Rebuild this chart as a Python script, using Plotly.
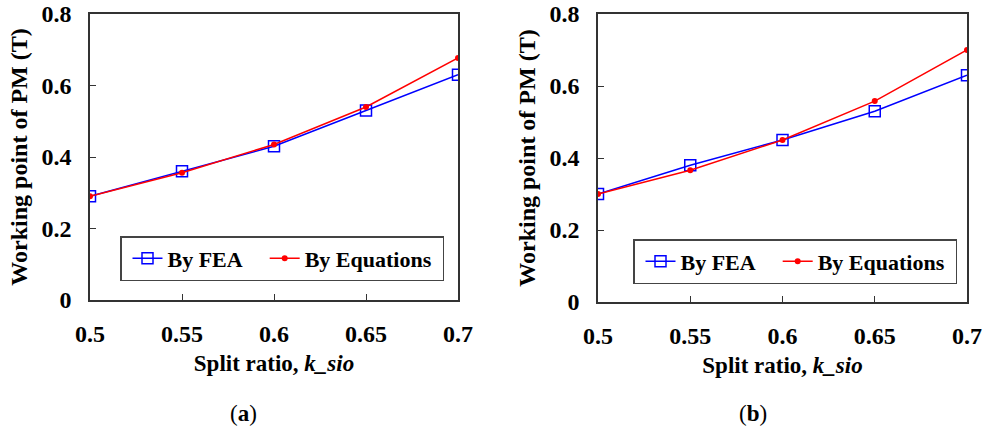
import plotly.graph_objects as go

split_ratio = [0.5, 0.55, 0.6, 0.65, 0.7]
x_tick_labels = ["0.5", "0.55", "0.6", "0.65", "0.7"]
y_tick_vals = [0, 0.2, 0.4, 0.6, 0.8]
y_tick_labels = ["0", "0.2", "0.4", "0.6", "0.8"]

fea_a = [0.29, 0.36, 0.43, 0.53, 0.63]
eq_a = [0.29, 0.356, 0.435, 0.54, 0.677]
fea_b = [0.30, 0.38, 0.45, 0.53, 0.63]
eq_b = [0.30, 0.366, 0.45, 0.558, 0.70]

W, H = 987, 432
FONT = "Liberation Serif"
BLUE = "#0000FF"
RED = "#FF0000"


def px(x):
    return x / W


def py(y):
    return 1 - y / H


fig = go.Figure()


def add_pair(fea, eq, xa, ya, legend):
    fig.add_trace(go.Scatter(
        x=split_ratio, y=fea, mode="lines+markers", name="By FEA\u00a0\u00a0",
        xaxis=xa, yaxis=ya, legend=legend,
        line=dict(color=BLUE, width=1.5),
        marker=dict(symbol="square-open", size=11, color=BLUE, line=dict(width=1.5)),
    ))
    fig.add_trace(go.Scatter(
        x=split_ratio, y=eq, mode="lines+markers", name="By Equations\u00a0",
        xaxis=xa, yaxis=ya, legend=legend,
        line=dict(color=RED, width=1.5),
        marker=dict(symbol="circle", size=6, color=RED),
    ))


add_pair(fea_a, eq_a, "x", "y", "legend")
add_pair(fea_b, eq_b, "x2", "y2", "legend2")

axis_common = dict(
    showgrid=False, zeroline=False, showline=True, mirror=True, automargin=False,
    linecolor="#333333", linewidth=1.5, ticks="inside", ticklen=6,
    tickcolor="#333333", tickwidth=1, ticklabeloverflow="allow",
    tickfont=dict(family=FONT, size=24, color="black", weight="bold"),
)

xdef = dict(range=[0.5, 0.7], tickvals=split_ratio, ticktext=x_tick_labels,
            ticklabelstandoff=11,
            title=dict(text="<b>Split ratio, <i>k_sio</i></b>",
                       font=dict(family=FONT, size=23, color="black"), standoff=9))
ydef = dict(range=[0, 0.8], tickvals=y_tick_vals, ticktext=y_tick_labels,
            ticklabelstandoff=12,
            title=dict(text="<b>Working point of PM (T)</b>",
                       font=dict(family=FONT, size=24, color="black"), standoff=7))

legend_common = dict(
    orientation="h", bordercolor="#444444", borderwidth=1.5, bgcolor="white",
    font=dict(family=FONT, size=22, color="black", weight="bold"),
    xanchor="left", yanchor="top", itemwidth=30, indentation=6,
    tracegroupgap=0,
)

fig.update_layout(
    width=W, height=H, margin=dict(l=0, r=0, t=0, b=0, autoexpand=False),
    paper_bgcolor="white", plot_bgcolor="white",
    showlegend=True,
    xaxis=dict(domain=[px(90), px(458)], anchor="y", **xdef, **axis_common),
    yaxis=dict(domain=[py(300), py(14)], anchor="x", **ydef, **axis_common),
    xaxis2=dict(domain=[px(598), px(967)], anchor="y2", **xdef, **axis_common),
    yaxis2=dict(domain=[py(302), py(14)], anchor="x2", **ydef, **axis_common),
    legend=dict(x=px(120), y=py(236), **legend_common),
    legend2=dict(x=px(633), y=py(239), **legend_common),
    annotations=[
        dict(text="(<b>a</b>)", x=px(243), y=py(413), xref="paper", yref="paper",
             xanchor="center", yanchor="middle",
             showarrow=False, font=dict(family=FONT, size=23, color="black")),
        dict(text="(<b>b</b>)", x=px(753), y=py(413), xref="paper", yref="paper",
             xanchor="center", yanchor="middle",
             showarrow=False, font=dict(family=FONT, size=23, color="black")),
    ],
)

fig.write_html("out.html", config={"displayModeBar": False},
               post_script="document.body.style.margin='0px';")
